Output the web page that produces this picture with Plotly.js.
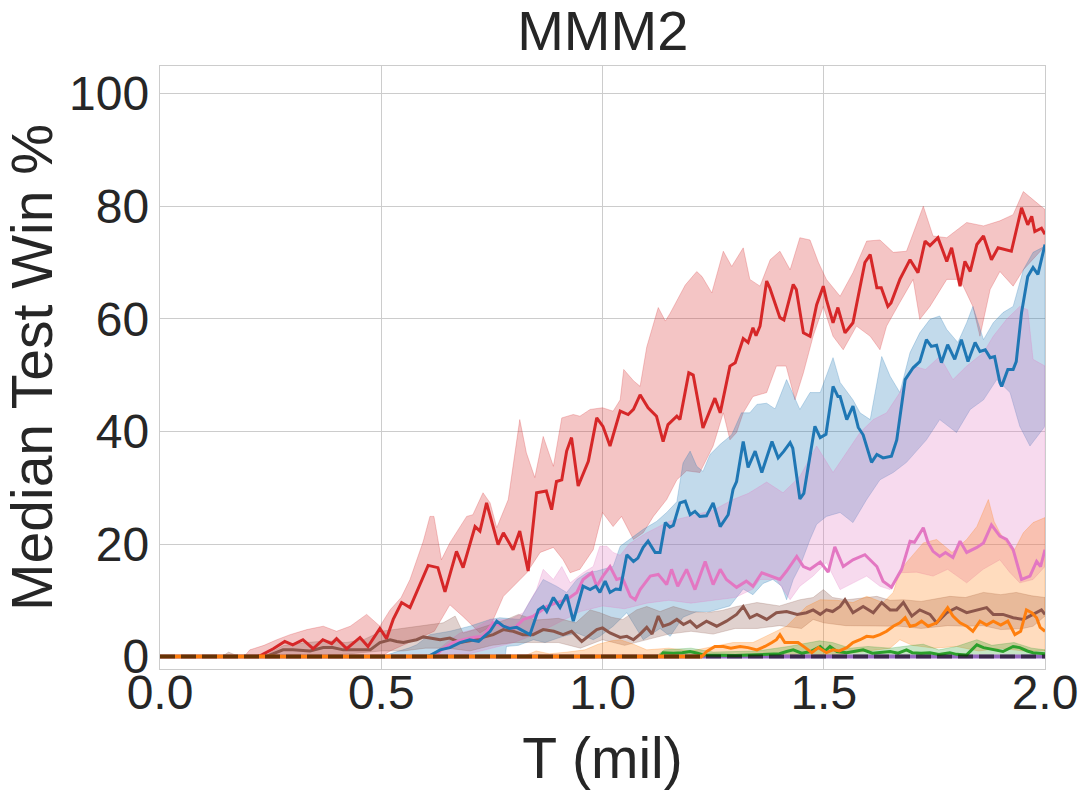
<!DOCTYPE html>
<html>
<head>
<meta charset="utf-8">
<script src="https://cdn.plot.ly/plotly-3.0.1.min.js"></script>
<style>
  body { margin: 0; background: #ffffff; }
  #chart { width: 1089px; height: 790px; }
</style>
</head>
<body>
<div id="chart"></div>
<script>
// [T (mil), win %] pairs

const redMean = [[0,0],[0.22,0],[0.23,0.3],[0.256,1.4],[0.282,2.7],[0.30,2.1],[0.323,3.0],[0.346,1.4],[0.368,3.0],[0.388,2.3],[0.399,3.2],[0.422,1.4],[0.452,3.4],[0.47,1.8],[0.497,5.0],[0.512,3.2],[0.527,6.6],[0.546,9.6],[0.565,8.7],[0.588,13.1],[0.606,16.2],[0.628,15.8],[0.644,11.5],[0.67,18.7],[0.685,15.8],[0.712,23.1],[0.723,22.3],[0.738,27.3],[0.764,19.9],[0.776,22.0],[0.798,19.0],[0.813,22.3],[0.832,15.2],[0.851,29.1],[0.873,29.4],[0.885,26.1],[0.896,31.1],[0.908,31.4],[0.919,36.5],[0.93,38.9],[0.945,30.3],[0.968,34.7],[0.987,42.4],[1.001,40.9],[1.017,37.4],[1.04,43.6],[1.058,43.0],[1.07,43.9],[1.085,46.5],[1.103,44.2],[1.122,42.7],[1.137,38.2],[1.148,41.2],[1.168,42.7],[1.175,42.1],[1.195,50.4],[1.205,50.0],[1.227,40.6],[1.254,45.9],[1.266,43.3],[1.288,51.6],[1.30,52.2],[1.318,56.5],[1.329,55.8],[1.34,58.4],[1.347,57.0],[1.356,58.7],[1.371,66.7],[1.378,65.5],[1.401,60.2],[1.41,59.8],[1.431,66.1],[1.438,65.2],[1.454,57.5],[1.469,56.9],[1.484,62.5],[1.499,65.8],[1.506,63.4],[1.521,59.3],[1.532,62.0],[1.548,57.5],[1.566,59.3],[1.593,70.0],[1.605,71.4],[1.62,65.5],[1.63,65.5],[1.645,62.2],[1.652,62.8],[1.672,67.0],[1.695,70.5],[1.713,68.2],[1.729,73.8],[1.74,73.0],[1.758,74.4],[1.778,70.2],[1.789,72.6],[1.808,65.8],[1.819,70.2],[1.831,68.4],[1.846,73.2],[1.861,74.7],[1.879,70.5],[1.894,72.6],[1.924,72.0],[1.947,79.7],[1.961,76.7],[1.97,78.2],[1.977,75.5],[1.992,76.1],[2.0,75.0]];
const redHigh = [[0,0],[0.19,0],[0.203,1.2],[0.235,2.0],[0.264,3.0],[0.294,3.9],[0.332,4.8],[0.369,5.4],[0.399,4.5],[0.43,5.4],[0.467,7.5],[0.497,5.4],[0.52,8.3],[0.545,10.5],[0.565,13.7],[0.58,17.2],[0.595,20.5],[0.61,24.9],[0.619,24.9],[0.636,17.2],[0.655,20.2],[0.693,24.9],[0.707,25.2],[0.73,29.1],[0.746,27.3],[0.761,22.9],[0.787,27.9],[0.813,42.1],[0.828,36.2],[0.847,31.8],[0.866,39.1],[0.889,33.8],[0.908,42.4],[0.934,43.0],[0.949,42.7],[0.972,43.9],[1.0,44.2],[1.024,43.6],[1.04,45.6],[1.048,51.0],[1.07,49.0],[1.085,48.0],[1.10,55.0],[1.126,62.0],[1.142,59.6],[1.153,61.0],[1.187,66.0],[1.213,68.4],[1.225,67.5],[1.247,64.6],[1.273,72.0],[1.292,69.3],[1.318,72.6],[1.333,67.0],[1.356,65.8],[1.379,70.5],[1.401,72.0],[1.424,68.7],[1.446,74.4],[1.469,74.0],[1.488,70.0],[1.506,67.0],[1.537,64.0],[1.566,68.2],[1.597,73.8],[1.627,74.0],[1.657,71.8],[1.687,72.0],[1.725,80.0],[1.747,74.7],[1.778,74.4],[1.823,77.1],[1.861,76.5],[1.898,77.4],[1.928,78.5],[1.951,82.6],[1.973,81.2],[2.0,79.4]];
const redLow = [[0,0],[0.50,0],[0.52,1.0],[0.55,2.0],[0.595,3.6],[0.62,4.5],[0.655,9.2],[0.685,7.1],[0.723,4.2],[0.746,5.3],[0.776,10.7],[0.798,12.4],[0.829,14.9],[0.859,18.5],[0.889,19.4],[0.911,17.2],[0.927,14.9],[0.949,15.5],[0.979,19.0],[1.0,25.6],[1.024,23.1],[1.043,24.9],[1.07,20.8],[1.092,22.0],[1.115,24.9],[1.145,27.9],[1.168,31.4],[1.19,33.0],[1.22,32.7],[1.25,37.4],[1.273,43.3],[1.288,38.5],[1.303,39.8],[1.318,43.3],[1.34,46.2],[1.371,46.9],[1.393,51.6],[1.415,51.6],[1.435,45.6],[1.454,50.4],[1.476,56.9],[1.499,62.2],[1.521,56.9],[1.544,54.5],[1.574,58.7],[1.605,56.9],[1.627,54.5],[1.642,58.7],[1.672,62.9],[1.702,67.0],[1.717,59.9],[1.74,62.2],[1.778,67.0],[1.808,67.0],[1.837,62.2],[1.853,56.9],[1.876,65.2],[1.898,68.4],[1.928,65.8],[1.951,68.7],[1.973,70.5],[2.0,72.9]];

const blueMean = [[0,0],[0.60,0],[0.61,0.2],[0.633,1.2],[0.655,1.6],[0.678,2.5],[0.70,3.0],[0.72,2.7],[0.746,4.5],[0.761,6.3],[0.776,5.4],[0.79,5.0],[0.806,5.2],[0.821,4.5],[0.836,3.9],[0.855,8.3],[0.866,8.9],[0.874,8.0],[0.889,10.5],[0.904,8.7],[0.919,11.0],[0.934,6.3],[0.956,12.5],[0.972,11.9],[0.985,12.5],[0.994,11.4],[1.006,13.4],[1.017,11.4],[1.03,12.0],[1.04,11.9],[1.055,18.1],[1.07,16.9],[1.08,17.5],[1.092,19.4],[1.103,20.5],[1.119,18.5],[1.13,18.5],[1.142,23.8],[1.152,23.0],[1.16,23.3],[1.175,27.3],[1.187,27.6],[1.198,25.2],[1.209,25.8],[1.22,24.9],[1.235,25.0],[1.25,27.3],[1.266,23.1],[1.284,25.2],[1.295,29.7],[1.303,31.1],[1.318,38.2],[1.329,33.6],[1.345,36.5],[1.36,32.7],[1.383,38.2],[1.397,35.3],[1.41,36.5],[1.424,38.0],[1.43,37.0],[1.446,28.0],[1.455,29.0],[1.469,35.6],[1.48,40.9],[1.492,38.9],[1.505,39.5],[1.521,48.0],[1.532,46.2],[1.537,46.2],[1.552,42.1],[1.566,44.5],[1.578,40.7],[1.589,39.4],[1.608,34.5],[1.62,35.9],[1.634,35.3],[1.653,35.6],[1.665,38.5],[1.684,49.2],[1.702,51.3],[1.717,52.4],[1.732,56.3],[1.743,55.1],[1.755,55.3],[1.766,52.2],[1.78,55.4],[1.796,52.8],[1.811,56.3],[1.826,52.4],[1.842,55.8],[1.853,54.2],[1.865,54.5],[1.876,53.1],[1.886,53.3],[1.898,48.7],[1.902,48.0],[1.916,51.0],[1.928,51.0],[1.935,52.4],[1.947,61.1],[1.961,67.5],[1.973,69.1],[1.984,67.9],[2.0,73.2]];
const blueHigh = [[0,0],[0.50,0],[0.565,1.6],[0.58,2.1],[0.61,3.9],[0.655,4.5],[0.70,5.4],[0.746,6.6],[0.768,6.9],[0.813,6.6],[0.836,9.8],[0.866,13.7],[0.896,12.5],[0.919,11.4],[0.942,13.7],[0.965,14.9],[0.987,15.2],[1.024,16.0],[1.04,19.6],[1.07,21.4],[1.092,22.6],[1.122,24.0],[1.145,25.6],[1.168,27.5],[1.182,34.4],[1.198,36.5],[1.213,33.8],[1.227,32.9],[1.243,35.9],[1.266,37.7],[1.292,39.4],[1.314,43.3],[1.333,43.3],[1.349,44.8],[1.371,45.0],[1.39,44.0],[1.416,49.2],[1.446,43.9],[1.469,46.9],[1.492,46.9],[1.521,53.1],[1.537,48.7],[1.566,45.6],[1.582,43.3],[1.605,42.1],[1.631,53.3],[1.65,49.8],[1.672,46.9],[1.695,54.0],[1.717,57.5],[1.74,59.9],[1.762,60.5],[1.778,58.1],[1.803,55.8],[1.823,59.3],[1.837,62.2],[1.861,56.3],[1.883,59.3],[1.905,61.1],[1.928,62.2],[1.951,68.7],[1.973,71.8],[2.0,72.9]];
const blueLow = [[0,0],[0.78,0],[0.783,1.8],[0.81,2.0],[0.844,3.0],[0.87,2.5],[0.911,3.6],[0.942,4.2],[0.979,3.0],[0.994,3.6],[1.024,5.4],[1.055,7.8],[1.092,3.0],[1.13,5.0],[1.153,3.6],[1.182,7.0],[1.213,8.0],[1.243,8.0],[1.288,9.0],[1.318,12.0],[1.34,11.0],[1.363,13.0],[1.385,13.7],[1.405,12.5],[1.416,10.1],[1.431,13.7],[1.446,16.0],[1.469,20.8],[1.484,23.5],[1.506,24.9],[1.537,25.6],[1.566,23.8],[1.597,27.9],[1.627,31.4],[1.657,32.7],[1.687,34.5],[1.732,38.5],[1.762,42.1],[1.8,39.8],[1.831,43.9],[1.861,45.6],[1.891,49.2],[1.921,46.9],[1.943,40.9],[1.966,37.4],[2.0,40.9]];

const pinkMean = [[0,0],[0.62,0],[0.636,1.2],[0.662,2.5],[0.685,3.0],[0.707,3.4],[0.73,3.6],[0.753,6.0],[0.776,5.4],[0.80,5.0],[0.821,6.6],[0.844,7.2],[0.874,8.9],[0.896,9.6],[0.919,10.1],[0.942,11.4],[0.956,13.7],[0.976,14.9],[0.987,12.5],[1.001,14.3],[1.017,16.0],[1.032,13.7],[1.045,14.0],[1.063,10.7],[1.074,10.1],[1.085,11.9],[1.108,14.3],[1.126,14.6],[1.145,12.8],[1.156,15.5],[1.17,12.5],[1.19,15.5],[1.209,11.9],[1.232,16.9],[1.25,12.8],[1.266,15.5],[1.28,13.7],[1.303,12.3],[1.325,13.4],[1.34,12.5],[1.36,14.9],[1.38,14.3],[1.401,13.7],[1.416,15.2],[1.439,17.8],[1.454,16.0],[1.469,15.5],[1.492,16.8],[1.51,15.0],[1.525,19.5],[1.544,16.0],[1.566,17.2],[1.593,18.1],[1.62,16.0],[1.634,13.4],[1.653,12.3],[1.676,15.5],[1.695,20.5],[1.705,20.3],[1.725,22.9],[1.736,20.2],[1.747,18.7],[1.762,17.8],[1.775,18.5],[1.792,17.6],[1.808,20.5],[1.823,18.5],[1.846,19.4],[1.861,20.2],[1.879,23.4],[1.898,21.4],[1.913,20.8],[1.928,19.0],[1.947,13.7],[1.966,14.3],[1.981,16.9],[1.99,16.0],[2.0,19.0]];
const pinkHigh = [[0,0],[0.60,0],[0.625,1.0],[0.648,2.5],[0.678,4.2],[0.707,4.8],[0.746,6.6],[0.791,6.6],[0.821,7.8],[0.851,11.9],[0.866,15.5],[0.889,13.7],[0.908,16.0],[0.927,13.1],[0.956,14.9],[0.979,16.0],[0.994,19.6],[1.01,19.6],[1.024,18.5],[1.04,18.0],[1.06,20.0],[1.10,22.0],[1.15,24.0],[1.20,25.0],[1.25,26.0],[1.295,27.9],[1.33,29.0],[1.371,31.0],[1.408,29.1],[1.446,32.0],[1.484,37.4],[1.521,32.7],[1.552,36.2],[1.582,39.8],[1.612,42.1],[1.642,43.3],[1.672,46.9],[1.702,51.6],[1.73,51.0],[1.762,53.3],[1.792,49.2],[1.823,51.6],[1.861,54.0],[1.883,56.9],[1.913,59.9],[1.943,62.2],[1.961,61.6],[1.973,52.8],[2.0,51.6]];
const pinkLow = [[0,0],[0.64,0],[0.70,0.5],[0.75,1.5],[0.80,2.5],[0.85,4.0],[0.90,6.0],[0.95,8.0],[1.0,9.0],[1.05,8.5],[1.10,9.5],[1.15,10.0],[1.20,9.5],[1.25,10.0],[1.30,10.5],[1.34,12.0],[1.356,13.7],[1.393,13.7],[1.424,10.1],[1.446,12.5],[1.476,14.3],[1.506,16.7],[1.537,11.9],[1.566,13.1],[1.597,14.3],[1.627,12.5],[1.65,11.9],[1.672,14.9],[1.71,15.0],[1.747,14.3],[1.78,15.5],[1.823,13.1],[1.86,15.5],[1.898,17.2],[1.92,15.0],[1.943,13.1],[1.973,13.7],[2.0,16.0]];

const brownMean = [[0,0],[0.24,0],[0.249,0.3],[0.278,1.2],[0.30,1.2],[0.339,1.0],[0.369,1.6],[0.39,1.6],[0.414,1.2],[0.44,1.2],[0.475,1.2],[0.497,2.5],[0.52,3.0],[0.535,2.7],[0.55,2.5],[0.58,3.0],[0.595,3.5],[0.61,3.3],[0.633,3.0],[0.655,3.3],[0.678,2.5],[0.70,2.8],[0.73,3.4],[0.753,3.9],[0.776,4.8],[0.798,4.5],[0.82,3.9],[0.843,3.9],[0.866,4.8],[0.89,4.5],[0.911,3.9],[0.93,4.5],[0.953,2.7],[0.972,3.9],[0.987,4.8],[1.0,5.1],[1.017,4.2],[1.04,3.4],[1.055,3.6],[1.07,3.0],[1.085,4.0],[1.10,5.2],[1.112,4.0],[1.126,7.2],[1.137,5.4],[1.152,5.8],[1.168,6.6],[1.183,5.7],[1.198,6.3],[1.213,5.2],[1.235,6.3],[1.258,5.4],[1.28,6.3],[1.303,7.5],[1.318,8.9],[1.333,6.9],[1.349,7.5],[1.371,6.6],[1.393,7.8],[1.416,8.0],[1.44,7.5],[1.461,7.8],[1.476,8.3],[1.492,7.5],[1.506,8.3],[1.52,8.0],[1.537,8.9],[1.548,10.1],[1.566,7.8],[1.589,8.9],[1.612,7.8],[1.631,9.6],[1.65,8.3],[1.665,8.3],[1.68,9.6],[1.699,7.2],[1.717,8.3],[1.74,7.5],[1.755,6.0],[1.778,7.8],[1.80,8.7],[1.823,7.8],[1.846,8.3],[1.868,8.7],[1.883,7.5],[1.905,7.5],[1.928,6.9],[1.951,6.6],[1.973,7.5],[1.992,8.3],[2.0,7.5]];
const brownHigh = [[0,0],[0.14,0],[0.155,0.8],[0.17,0.3],[0.24,0.3],[0.28,2.0],[0.33,2.5],[0.38,2.8],[0.42,2.5],[0.46,3.0],[0.50,4.5],[0.55,5.0],[0.60,5.5],[0.64,6.0],[0.667,7.2],[0.685,4.2],[0.72,5.0],[0.76,6.0],[0.783,6.6],[0.81,7.5],[0.85,6.5],[0.90,6.8],[0.94,6.0],[0.972,8.3],[0.994,7.8],[1.02,7.0],[1.046,6.6],[1.077,8.3],[1.10,8.9],[1.13,8.0],[1.16,8.9],[1.20,8.0],[1.235,7.8],[1.27,8.2],[1.303,8.9],[1.349,9.6],[1.40,9.0],[1.446,10.1],[1.476,10.5],[1.499,11.9],[1.52,10.5],[1.552,10.1],[1.62,10.7],[1.65,10.0],[1.68,10.1],[1.72,9.8],[1.785,10.7],[1.82,10.5],[1.861,11.4],[1.90,11.0],[1.935,11.4],[1.97,10.8],[2.0,10.5]];
const brownLow = [[0,0],[0.30,0],[0.40,0.3],[0.50,1.0],[0.55,1.0],[0.60,1.5],[0.65,1.5],[0.70,1.0],[0.75,2.0],[0.80,2.5],[0.85,2.5],[0.90,2.5],[0.95,1.5],[1.0,3.0],[1.05,2.0],[1.10,3.0],[1.15,4.0],[1.20,4.5],[1.25,4.0],[1.30,5.0],[1.35,5.0],[1.40,5.5],[1.45,5.0],[1.476,6.6],[1.50,6.0],[1.55,5.5],[1.60,5.5],[1.672,5.4],[1.72,5.0],[1.78,5.5],[1.823,5.4],[1.86,5.5],[1.90,4.8],[1.95,5.0],[1.973,5.4],[2.0,7.2]];

const orangeMean = [[0,0],[1.225,0],[1.235,0.9],[1.254,1.8],[1.273,1.8],[1.29,1.5],[1.311,1.8],[1.329,1.6],[1.349,1.2],[1.367,1.8],[1.383,2.5],[1.393,3.0],[1.401,3.9],[1.412,2.5],[1.427,2.5],[1.442,2.5],[1.458,1.6],[1.473,0.7],[1.488,1.6],[1.506,0.7],[1.521,1.2],[1.535,1.0],[1.552,1.6],[1.566,2.5],[1.582,3.0],[1.597,3.6],[1.612,3.5],[1.627,3.9],[1.642,4.5],[1.657,5.4],[1.672,6.0],[1.684,6.9],[1.695,5.4],[1.708,5.6],[1.721,6.3],[1.736,5.4],[1.755,6.0],[1.77,7.5],[1.78,8.7],[1.792,7.2],[1.808,6.0],[1.823,5.4],[1.837,4.5],[1.853,6.3],[1.868,5.6],[1.883,6.3],[1.90,5.6],[1.916,6.3],[1.932,3.9],[1.945,4.5],[1.958,8.3],[1.97,7.8],[1.981,6.9],[1.989,5.2],[2.0,4.5]];
const orangeHigh = [[0,0],[0.82,0],[0.85,1.0],[0.88,0.5],[0.92,0.8],[0.96,1.2],[0.99,2.2],[1.02,2.8],[1.04,3.0],[1.07,2.2],[1.10,1.2],[1.15,1.5],[1.20,1.0],[1.235,1.6],[1.295,2.5],[1.34,2.5],[1.385,4.2],[1.416,5.4],[1.439,7.2],[1.461,8.9],[1.492,10.1],[1.53,10.0],[1.566,9.6],[1.597,10.7],[1.634,9.6],[1.657,11.4],[1.672,15.2],[1.69,17.0],[1.725,20.2],[1.755,20.8],[1.79,18.5],[1.823,20.8],[1.846,23.1],[1.872,27.9],[1.885,24.0],[1.898,22.0],[1.928,18.5],[1.951,22.0],[1.973,23.8],[2.0,24.7]];
const orangeLow = [[0,0],[1.40,0],[1.45,0.5],[1.50,0.3],[1.55,0.5],[1.60,1.0],[1.65,1.5],[1.672,3.0],[1.70,2.0],[1.75,1.5],[1.80,1.8],[1.85,1.0],[1.90,1.5],[1.95,1.0],[2.0,1.0]];

const greenMean = [[0,0],[1.13,0],[1.137,0.7],[1.16,0.6],[1.18,0.7],[1.198,0.9],[1.215,0.6],[1.227,0.3],[1.30,0.2],[1.36,0.4],[1.40,0.5],[1.416,0.9],[1.431,1.2],[1.45,0.6],[1.47,0.9],[1.492,1.8],[1.503,1.0],[1.514,1.8],[1.53,0.9],[1.552,0.7],[1.57,0.9],[1.589,1.2],[1.61,0.6],[1.627,0.7],[1.65,0.9],[1.668,0.6],[1.687,1.2],[1.70,0.7],[1.72,0.6],[1.74,0.7],[1.76,0.4],[1.785,0.7],[1.80,0.4],[1.823,0.3],[1.846,2.1],[1.861,1.6],[1.883,1.2],[1.905,0.9],[1.928,1.8],[1.943,1.6],[1.96,1.0],[1.973,0.7],[2.0,0.5]];
const greenHigh = [[0,0],[1.12,0],[1.14,1.2],[1.20,1.5],[1.25,0.8],[1.35,1.0],[1.42,1.8],[1.49,2.8],[1.52,2.5],[1.56,1.5],[1.60,1.8],[1.65,1.5],[1.70,2.0],[1.725,2.2],[1.76,1.2],[1.80,1.8],[1.846,3.0],[1.88,2.0],[1.93,2.5],[1.97,1.5],[2.0,1.2]];
const greenLow = [[0,0],[2.0,0]];

const purpleMean = [[0,0],[2.0,0]];
const zeroLine = [[0,0],[2.0,0]];

const xTicks = [0, 0.5, 1.0, 1.5, 2.0];
const xTickText = ['0.0', '0.5', '1.0', '1.5', '2.0'];
const yTicks = [0, 20, 40, 60, 80, 100];

const FONT = 'Liberation Sans, Arial, Helvetica, sans-serif';
const INK = '#262626';
const LW = 3.0;

function rgba(hex, a) {
  const n = parseInt(hex.slice(1), 16);
  return `rgba(${(n >> 16) & 255},${(n >> 8) & 255},${n & 255},${a})`;
}

function band(high, low, color) {
  const back = low.slice().reverse();
  return {
    x: high.map(p => p[0]).concat(back.map(p => p[0])),
    y: high.map(p => p[1]).concat(back.map(p => p[1])),
    mode: 'lines',
    fill: 'toself',
    fillcolor: rgba(color, 0.27),
    line: { color: rgba(color, 0.3), width: 0.8 },
    hoverinfo: 'skip',
    showlegend: false
  };
}

function mean(pts, color, width, dash) {
  return {
    x: pts.map(p => p[0]),
    y: pts.map(p => p[1]),
    mode: 'lines',
    line: { color: color, width: width, dash: dash || 'solid' },
    showlegend: false
  };
}

const C = {
  blue: '#1f77b4', orange: '#ff7f0e', green: '#2ca02c', red: '#d62728',
  purple: '#9467bd', brown: '#8c564b', pink: '#e377c2'
};

const traces = [
  band(redHigh, redLow, C.red),
  band(blueHigh, blueLow, C.blue),
  band(pinkHigh, pinkLow, C.pink),
  band(brownHigh, brownLow, C.brown),
  band(orangeHigh, orangeLow, C.orange),
  band(greenHigh, greenLow, C.green),
  mean(purpleMean, C.purple, 4),
  mean(greenMean, C.green, LW),
  mean(brownMean, C.brown, LW),
  mean(pinkMean, C.pink, LW),
  mean(blueMean, C.blue, LW),
  mean(redMean, C.red, LW),
  // orange sits on the zero line until it lifts off; a bit thicker there
  mean(orangeMean.filter(p => p[0] <= 1.225), C.orange, 4),
  mean(orangeMean, C.orange, LW),
  mean(zeroLine, 'rgba(0,0,0,0.6)', 4, '15px,6px')
];

const axisCommon = {
  showgrid: true,
  gridcolor: '#cccccc',
  gridwidth: 1,
  zeroline: false,
  showline: true,
  mirror: true,
  linecolor: '#cccccc',
  linewidth: 1.25,
  ticks: '',
  tickfont: { family: FONT, size: 48, color: INK }
};

const layout = {
  width: 1089,
  height: 790,
  margin: { l: 160, r: 44, t: 66, b: 121 },
  paper_bgcolor: '#ffffff',
  plot_bgcolor: '#ffffff',
  showlegend: false,
  font: { family: FONT, color: INK },
  title: {
    text: 'MMM2',
    font: { family: FONT, size: 56, color: INK },
    x: 0.5535, xanchor: 'center', xref: 'container',
    y: 0.961, yanchor: 'middle', yref: 'container'
  },
  xaxis: Object.assign({}, axisCommon, {
    range: [0, 2],
    tickvals: xTicks,
    ticktext: xTickText,
    ticklabelstandoff: -19,
    title: { text: 'T (mil)', font: { family: FONT, size: 57, color: INK }, standoff: 20 }
  }),
  yaxis: Object.assign({}, axisCommon, {
    range: [-2.2, 104.9],
    tickvals: yTicks,
    ticklabelstandoff: 0,
    title: { text: 'Median Test Win %', font: { family: FONT, size: 57, color: INK }, standoff: 10 }
  })
};

Plotly.newPlot('chart', traces, layout, { displayModeBar: false, staticPlot: true });
</script>
</body>
</html>
